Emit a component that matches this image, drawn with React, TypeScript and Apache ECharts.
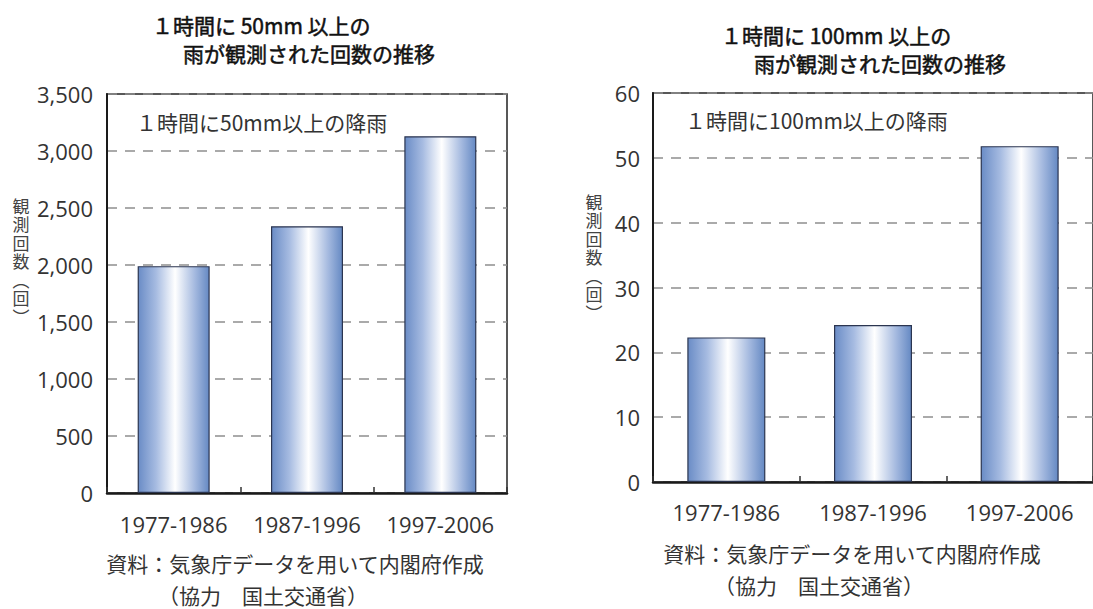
import React, { useEffect, useRef } from "react";
import * as echarts from "echarts";

const categories = ["1977-1986", "1987-1996", "1997-2006"];
const values50 = [1990, 2340, 3130];
const values100 = [22.3, 24.2, 51.8];
const axis50 = { min: 0, max: 3500, interval: 500 };
const axis100 = { min: 0, max: 60, interval: 10 };

const title50 = ["１時間に 50mm 以上の", "雨が観測された回数の推移"];
const title100 = ["１時間に 100mm 以上の", "雨が観測された回数の推移"];
const inner50 = "１時間に50mm以上の降雨";
const inner100 = "１時間に100mm以上の降雨";
const yName = "観\n測\n回\n数\n︵\n回\n︶";
const source1 = "資料：気象庁データを用いて内閣府作成";
const source2 = "（協力　国土交通省）";

const NUM_FONT = "'Open Sans', 'Noto Sans', sans-serif";
const JP_FONT = "'Noto Sans CJK JP', sans-serif";

export default function App() {
  const ref = useRef<HTMLDivElement>(null);
  useEffect(() => {
    document.body.style.margin = "0";
    const chart = echarts.init(ref.current!, null, { renderer: "svg" });
    const barColor = new echarts.graphic.LinearGradient(0, 0, 1, 0, [
      { offset: 0, color: "#6a8cc6" },
      { offset: 0.25, color: "#a6bbe1" },
      { offset: 0.52, color: "#ffffff" },
      { offset: 0.8, color: "#a4b9df" },
      { offset: 1, color: "#6589c3" },
    ]);
    const commonY = (ax: any, gap: number) => ({
      type: "value",
      min: ax.min,
      max: ax.max,
      interval: ax.interval,
      axisLine: { show: true, lineStyle: { color: "#1a1a1a", width: 2 } },
      axisTick: { show: false },
      axisLabel: {
        margin: gap,
        fontFamily: NUM_FONT,
        fontSize: 22,
        color: "#333",
        formatter: (v: number) => v.toLocaleString("en-US"),
      },
      splitLine: { show: true, lineStyle: { color: "#8f8f8f", width: 1.5, type: [10, 8] } },
    });
    const commonX = (margin: number) => ({
      type: "category",
      data: categories,
      axisLine: { show: true, lineStyle: { color: "#1a1a1a", width: 2.5 } },
      axisTick: { show: true, inside: true, length: 6, lineStyle: { color: "#333", width: 1.5 } },
      axisLabel: { margin, interval: 0, hideOverlap: false, fontFamily: NUM_FONT, fontSize: 22, color: "#333" },
    });
    const textStyle = (size: number, weight: any, color: string) => ({
      fontFamily: JP_FONT,
      fontSize: size,
      fontWeight: weight,
      fill: color,
    });
    const titleStyle = {
      ...textStyle(21, "normal", "#111"),
      stroke: "#111",
      lineWidth: 0.5,
      textVerticalAlign: "middle",
    };
    chart.setOption({
      animation: false,
      grid: [
        { left: 107, top: 94, width: 400, height: 399, show: true, borderColor: "#222", borderWidth: 1.5, backgroundColor: "transparent" },
        { left: 653, top: 93, width: 442, height: 389, show: true, borderColor: "#222", borderWidth: 1.5, backgroundColor: "transparent" },
      ],
      xAxis: [
        { ...commonX(20), gridIndex: 0 },
        { ...commonX(19), gridIndex: 1 },
      ],
      yAxis: [
        { ...commonY(axis50, 14), gridIndex: 0 },
        { ...commonY(axis100, 13), gridIndex: 1 },
      ],
      series: [
        {
          type: "bar",
          xAxisIndex: 0,
          yAxisIndex: 0,
          data: values50,
          barWidth: 72,
          itemStyle: { color: barColor, borderColor: "#2b3550", borderWidth: 1.2 },
        },
        {
          type: "bar",
          xAxisIndex: 1,
          yAxisIndex: 1,
          data: values100,
          barWidth: 78,
          itemStyle: { color: barColor, borderColor: "#2b3550", borderWidth: 1.2 },
        },
      ],
      graphic: [
        { type: "text", x: 152, y: 25, style: { text: title50[0], ...titleStyle } },
        { type: "text", x: 183, y: 53, style: { text: title50[1], ...titleStyle } },
        { type: "text", x: 721, y: 35, style: { text: title100[0], ...titleStyle } },
        { type: "text", x: 754, y: 63, style: { text: title100[1], ...titleStyle } },
        { type: "text", x: 136, y: 122, style: { text: inner50, ...textStyle(21, "normal", "#333"), textVerticalAlign: "middle" } },
        { type: "text", x: 685, y: 120, style: { text: inner100, ...textStyle(21, "normal", "#333"), textVerticalAlign: "middle" } },
        { type: "text", x: 21, y: 196, style: { text: yName, ...textStyle(17, "normal", "#444"), lineHeight: 18.5, textAlign: "center" } },
        { type: "text", x: 594, y: 192, style: { text: yName, ...textStyle(17, "normal", "#444"), lineHeight: 18.5, textAlign: "center" } },
        { type: "text", x: 295, y: 563, style: { text: source1, ...textStyle(21, "normal", "#333"), textAlign: "center", textVerticalAlign: "middle" } },
        { type: "text", x: 158, y: 595, style: { text: source2, ...textStyle(21, "normal", "#333"), textVerticalAlign: "middle" } },
        { type: "text", x: 852, y: 553, style: { text: source1, ...textStyle(21, "normal", "#333"), textAlign: "center", textVerticalAlign: "middle" } },
        { type: "text", x: 714, y: 585, style: { text: source2, ...textStyle(21, "normal", "#333"), textVerticalAlign: "middle" } },
      ],
    });
    return () => chart.dispose();
  }, []);
  return <div ref={ref} style={{ width: 1093, height: 609, background: "#fff" }} />;
}
